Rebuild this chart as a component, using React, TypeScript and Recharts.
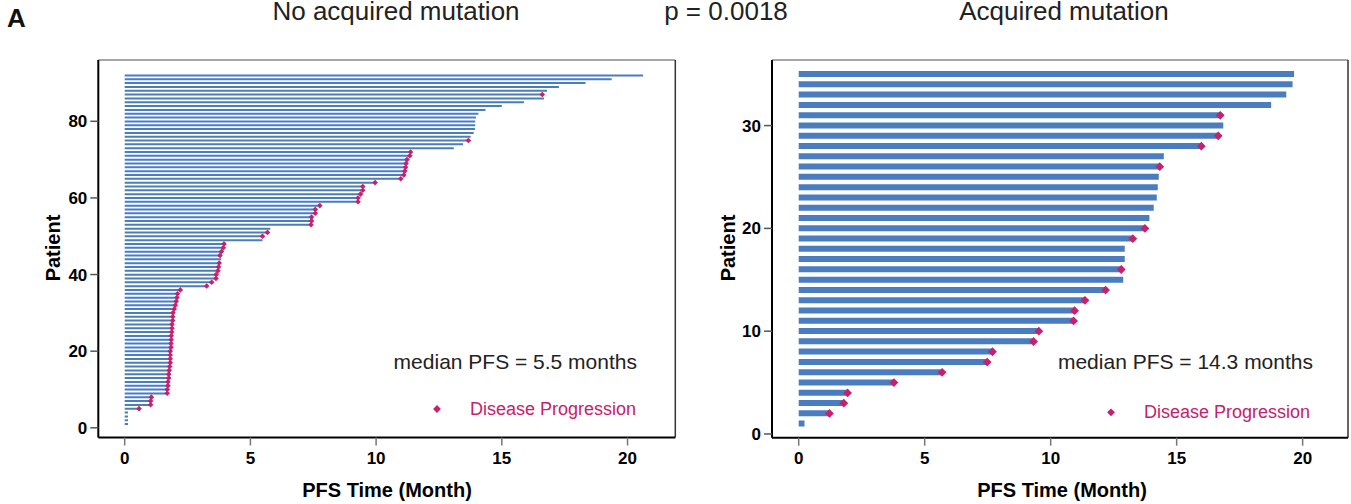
import React from "react";
import { ComposedChart, Bar, Scatter, XAxis, YAxis, ReferenceLine } from "recharts";

// PFS per patient (months), patient 1 at the bottom
const leftPfs = [
  0.13, 0.13, 0.13, 0.13, 0.57, 1.03, 1.03, 1.06, 1.69, 1.69,
  1.72, 1.72, 1.75, 1.75, 1.77, 1.79, 1.81, 1.81, 1.81, 1.81,
  1.84, 1.84, 1.85, 1.85, 1.87, 1.88, 1.88, 1.91, 1.91, 1.92,
  1.97, 2.01, 2.05, 2.08, 2.1, 2.21, 3.26, 3.46, 3.63, 3.64,
  3.71, 3.73, 3.76, 3.84, 3.79, 3.85, 3.92, 3.95, 5.48, 5.48,
  5.68, 5.79, 7.41, 7.43, 7.43, 7.58, 7.58, 7.76, 9.28, 9.28,
  9.38, 9.47, 9.47, 9.96, 10.98, 11.1, 11.14, 11.17, 11.19, 11.23,
  11.34, 11.37, 13.09, 13.46, 13.67, 13.76, 13.88, 13.93, 13.94, 13.94,
  13.97, 14.07, 14.35, 15.0, 15.88, 16.68, 16.61, 16.8, 17.27, 18.33,
  19.37, 20.62,
];
// 1 = disease progression
const leftEvent = [
  0, 0, 0, 0, 1, 1, 1, 1, 1, 1,
  1, 1, 1, 1, 1, 1, 1, 1, 1, 1,
  1, 1, 1, 1, 1, 1, 1, 1, 1, 1,
  1, 1, 1, 1, 1, 1, 1, 1, 1, 1,
  1, 1, 1, 0, 1, 1, 1, 1, 0, 1,
  1, 0, 1, 1, 1, 1, 1, 1, 1, 1,
  1, 1, 1, 1, 1, 1, 1, 1, 1, 1,
  1, 1, 0, 0, 1, 0, 0, 0, 0, 0,
  0, 0, 0, 0, 0, 0, 1, 0, 0, 0,
  0, 0,
];

const rightPfs = [
  0.23, 1.22, 1.79, 1.94, 3.78, 5.69, 7.48, 7.69, 9.32, 9.53,
  10.91, 10.95, 11.36, 12.18, 12.88, 12.8, 12.94, 12.94, 13.26, 13.74,
  13.92, 14.09, 14.21, 14.25, 14.29, 14.33, 14.49, 15.98, 16.65, 16.85,
  16.73, 18.75, 19.35, 19.6, 19.66,
];
const rightEvent = [
  0, 1, 1, 1, 1, 1, 1, 1, 1, 1,
  1, 1, 1, 1, 0, 1, 0, 0, 1, 1,
  0, 0, 0, 0, 0, 1, 0, 1, 1, 0,
  1, 0, 0, 0, 0,
];

const xTicks = [0, 5, 10, 15, 20];
const leftYTicks = [0, 20, 40, 60, 80];
const rightYTicks = [0, 10, 20, 30];

const FONT = '"Liberation Sans", Arial, Helvetica, sans-serif';
const BLUE = "#4a7cc0";
const PINK = "#c8206a";

const toRows = (pfs: number[], ev: number[]) =>
  pfs.map((v, i) => ({ patient: i + 1, pfs: v, event: ev[i] }));

const diamondPath = (cx: number, cy: number, r: number) =>
  `M${cx},${cy - r}L${cx + r},${cy}L${cx},${cy + r}L${cx - r},${cy}Z`;

type PanelProps = {
  rows: { patient: number; pfs: number; event: number }[];
  width: number;
  margin: { top: number; right: number; left: number; bottom: number };
  xDomain: [number, number];
  yDomain: [number, number];
  yTicks: number[];
  barSize: number;
  markR: number;
};

const SwimmerPanel: React.FC<PanelProps> = ({
  rows,
  width,
  margin,
  xDomain,
  yDomain,
  yTicks,
  barSize,
  markR,
}) => {
  const events = rows.filter((r) => r.event === 1);
  const tickStyle = { fontSize: 17, fontWeight: 700, fill: "#000", fontFamily: FONT };
  return (
    <ComposedChart
      layout="vertical"
      width={width}
      height={504}
      data={rows}
      margin={margin}
      style={{ fontFamily: FONT }}
    >
      <XAxis
        type="number"
        domain={xDomain}
        allowDataOverflow
        ticks={xTicks}
        interval={0}
        tickSize={8}
        tickMargin={6}
        tick={tickStyle}
        axisLine={{ stroke: "#000", strokeWidth: 2 }}
        tickLine={{ stroke: "#777", strokeWidth: 1.5 }}
        height={40}
      />
      <YAxis
        type="number"
        dataKey="patient"
        domain={yDomain}
        allowDataOverflow
        reversed
        ticks={yTicks}
        interval={0}
        tickSize={8}
        tickMargin={3}
        tick={tickStyle}
        axisLine={{ stroke: "#000", strokeWidth: 2 }}
        tickLine={{ stroke: "#555", strokeWidth: 1.5 }}
        width={60}
      />
      {/* frame: top and right edges */}
      <ReferenceLine y={yDomain[1]} stroke="#888" strokeWidth={1.5} />
      <ReferenceLine x={xDomain[1]} stroke="#333" strokeWidth={1.5} />
      <Bar dataKey="pfs" fill={BLUE} barSize={barSize} isAnimationActive={false} />
      <Scatter
        data={events}
        dataKey="pfs"
        isAnimationActive={false}
        shape={(p: any) => <path d={diamondPath(p.cx, p.cy, markR)} fill={PINK} />}
      />
    </ComposedChart>
  );
};

const titleStyle = { fontSize: 26, fill: "#222", fontFamily: FONT };
const noteStyle = { fontSize: 21, fill: "#222", fontFamily: FONT };
const legendStyle = { fontSize: 18, fill: PINK, fontFamily: FONT };
const axisTitleStyle = { fontSize: 20, fontWeight: 700, fill: "#000", fontFamily: FONT };

export default function App() {
  return (
    <div
      style={{
        position: "absolute",
        left: 0,
        top: 0,
        width: 1351,
        height: 504,
        background: "#fff",
        overflow: "hidden",
      }}
    >
      <div style={{ position: "absolute", left: 0, top: 0 }}>
        <SwimmerPanel
          rows={toRows(leftPfs, leftEvent)}
          width={700}
          margin={{ top: 60, right: 24.7, left: 38.3, bottom: 26.5 }}
          xDomain={[-1.05, 21.9]}
          yDomain={[-2.53, 96.0]}
          yTicks={leftYTicks}
          barSize={2}
          markR={2.8}
        />
      </div>
      <div style={{ position: "absolute", left: 680, top: 0 }}>
        <SwimmerPanel
          rows={toRows(rightPfs, rightEvent)}
          width={671}
          margin={{ top: 60, right: 3, left: 32, bottom: 26.3 }}
          xDomain={[-1.06, 21.8]}
          yDomain={[-0.36, 36.38]}
          yTicks={rightYTicks}
          barSize={6}
          markR={4.4}
        />
      </div>
      <svg
        width={1351}
        height={504}
        style={{ position: "absolute", left: 0, top: 0, pointerEvents: "none" }}
      >
        <text x={7} y={27} style={{ fontSize: 26, fontWeight: 700, fill: "#111", fontFamily: FONT }}>
          A
        </text>
        <text x={396} y={20} textAnchor="middle" style={titleStyle}>
          No acquired mutation
        </text>
        <text x={726} y={20} textAnchor="middle" style={titleStyle}>
          p = 0.0018
        </text>
        <text x={1064} y={20} textAnchor="middle" style={titleStyle}>
          Acquired mutation
        </text>

        <text x={637} y={369} textAnchor="end" style={noteStyle}>
          median PFS = 5.5 months
        </text>
        <path d={diamondPath(437, 409, 3.9)} fill={PINK} />
        <text x={470} y={415} style={legendStyle}>
          Disease Progression
        </text>

        <text x={1313} y={369.3} textAnchor="end" style={noteStyle}>
          median PFS = 14.3 months
        </text>
        <path d={diamondPath(1111, 412.3, 3.9)} fill={PINK} />
        <text x={1144} y={417.5} style={legendStyle}>
          Disease Progression
        </text>

        <text x={387} y={497} textAnchor="middle" style={axisTitleStyle}>
          PFS Time (Month)
        </text>
        <text x={1062} y={497} textAnchor="middle" style={axisTitleStyle}>
          PFS Time (Month)
        </text>
        <text
          x={59.5}
          y={248}
          textAnchor="middle"
          transform="rotate(-90 59.5 248)"
          style={axisTitleStyle}
        >
          Patient
        </text>
        <text
          x={735}
          y={248}
          textAnchor="middle"
          transform="rotate(-90 735 248)"
          style={axisTitleStyle}
        >
          Patient
        </text>
      </svg>
    </div>
  );
}
